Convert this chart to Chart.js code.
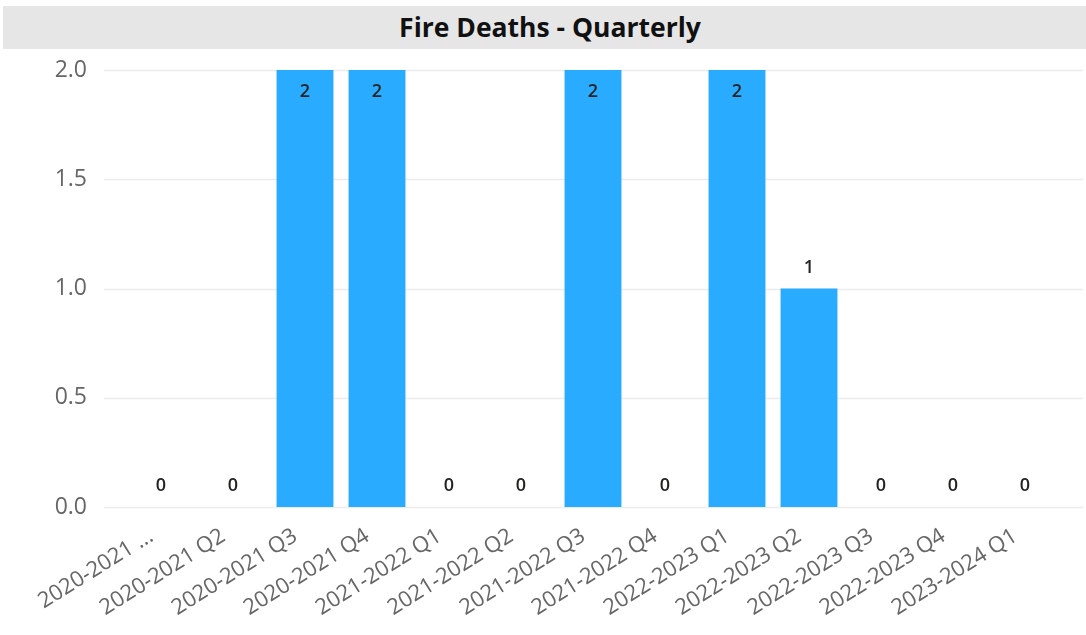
<!DOCTYPE html>
<html>
<head>
<meta charset="utf-8">
<script src="https://cdn.jsdelivr.net/npm/chart.js@4"></script>
<style>
  body { margin: 0; background: #fff; font-family: "Open Sans", sans-serif; }
  #title {
    position: absolute; left: 3px; top: 6px; width: 1083px; height: 43px;
    background: #E6E6E6; color: #111; font-weight: 700; font-size: 26.5px;
    line-height: 43px; text-align: center; text-indent: 11px;
  }
  #wrap { position: absolute; left: 0; top: 50px; width: 1086px; height: 585px; }
</style>
</head>
<body>
<div id="title">Fire Deaths - Quarterly</div>
<div id="wrap"><canvas id="chart"></canvas></div>
<script>
const categories = [
  "2020-2021 Q1", "2020-2021 Q2", "2020-2021 Q3", "2020-2021 Q4",
  "2021-2022 Q1", "2021-2022 Q2", "2021-2022 Q3", "2021-2022 Q4",
  "2022-2023 Q1", "2022-2023 Q2", "2022-2023 Q3", "2022-2023 Q4",
  "2023-2024 Q1"
]
const tickLabels = [
  "2020-2021 ...", "2020-2021 Q2", "2020-2021 Q3", "2020-2021 Q4",
  "2021-2022 Q1", "2021-2022 Q2", "2021-2022 Q3", "2021-2022 Q4",
  "2022-2023 Q1", "2022-2023 Q2", "2022-2023 Q3", "2022-2023 Q4",
  "2023-2024 Q1"
]
const fireDeaths = [0, 0, 2, 2, 0, 0, 2, 0, 2, 1, 0, 0, 0]
const yTicks = [0, 0.5, 1, 1.5, 2]

// horizontal gridlines run a bit wider than the bars, like the original
const wideGrid = {
  id: "wideGrid",
  beforeDatasetsDraw(chart) {
    const ctx = chart.ctx
    const y = chart.scales.y
    ctx.save()
    ctx.strokeStyle = "#ECECEC"
    ctx.lineWidth = 1.5
    yTicks.forEach(v => {
      const py = Math.round(y.getPixelForValue(v)) + 0.5
      ctx.beginPath()
      ctx.moveTo(104, py)
      ctx.lineTo(1083, py)
      ctx.stroke()
    })
    ctx.restore()
  }
}

const valueLabels = {
  id: "valueLabels",
  afterDatasetsDraw(chart) {
    const ctx = chart.ctx
    const meta = chart.getDatasetMeta(0)
    const top = chart.chartArea.top
    ctx.save()
    ctx.font = "600 18px 'Open Sans'"
    ctx.fillStyle = "#252423"
    ctx.textAlign = "center"
    ctx.textBaseline = "middle"
    meta.data.forEach((bar, i) => {
      const v = fireDeaths[i]
      const inside = bar.y - top < 30
      const py = inside ? bar.y + 22 : bar.y - 21
      ctx.fillText(String(v), bar.x, py)
    })
    ctx.restore()
  }
}

new Chart(document.getElementById("chart"), {
  type: "bar",
  data: {
    labels: categories,
    datasets: [{
      data: fireDeaths,
      backgroundColor: "#29ABFF",
      categoryPercentage: 1,
      barPercentage: 0.79
    }]
  },
  options: {
    responsive: true,
    maintainAspectRatio: false,
    animation: false,
    layout: { padding: { top: 20, right: 25, left: 0, bottom: 0 } },
    plugins: { legend: { display: false }, tooltip: { enabled: false } },
    scales: {
      x: {
        grid: { display: false },
        border: { display: false },
        ticks: {
          autoSkip: false,
          minRotation: 32,
          maxRotation: 32,
          padding: 2,
          color: "#666666",
          font: { family: "Open Sans", size: 22 },
          callback: (value, index) => tickLabels[index] + "  "
        },
        afterFit: (scale) => {
          scale.height = 128
          scale.paddingLeft = 0
          scale.paddingRight = 0
        }
      },
      y: {
        min: 0,
        max: 2,
        grid: { display: false },
        border: { display: false },
        ticks: {
          stepSize: 0.5,
          padding: 30,
          color: "#666666",
          font: { family: "Open Sans", size: 23 },
          callback: (value) => value.toFixed(1)
        },
        afterFit: (scale) => {
          scale.width = 125
          scale.paddingTop = 0
          scale.paddingBottom = 0
        }
      }
    }
  },
  plugins: [wideGrid, valueLabels]
})
</script>
</body>
</html>
